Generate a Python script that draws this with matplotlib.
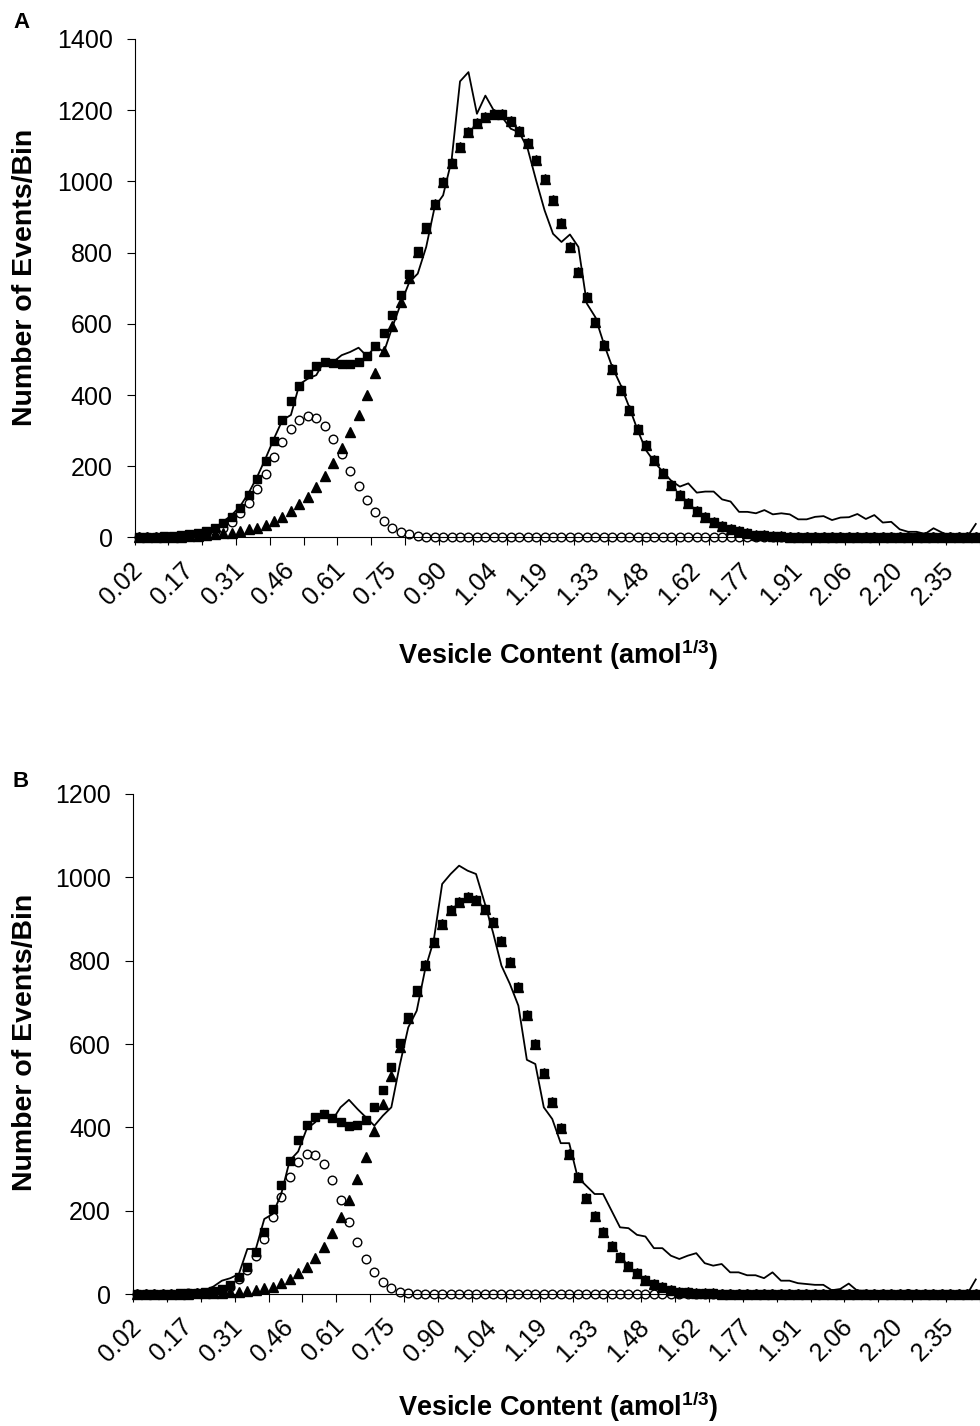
import numpy as np
import matplotlib
matplotlib.use("Agg")
import matplotlib.pyplot as plt

plt.rcParams["font.family"] = ["Liberation Sans", "DejaVu Sans"]
plt.rcParams["mathtext.fontset"] = "custom"
plt.rcParams["mathtext.rm"] = "Liberation Sans"
plt.rcParams["mathtext.bf"] = "Liberation Sans:bold"

# ----------------------------
# Data, one value per bin, 100 bins
# ----------------------------
TICK_LABELS = ["0.02", "0.17", "0.31", "0.46", "0.61", "0.75", "0.90", "1.04", "1.19",
               "1.33", "1.48", "1.62", "1.77", "1.91", "2.06", "2.20", "2.35"]

# Panel A
A_HIST = [0, 0, 1, 1, 2, 2, 4, 8, 14, 25,
          45, 63, 88, 125, 170, 222, 278, 330, 344, 430,
          446, 456, 498, 493, 512, 521, 533, 509, 537, 521,
          591, 657, 717, 741, 816, 928, 961, 1059, 1281, 1307,
          1190, 1241, 1199, 1180, 1148, 1138, 1092, 1003, 919, 853,
          830, 851, 816, 657, 619, 545, 479, 428, 367, 302,
          245, 212, 184, 159, 143, 152, 126, 129, 129, 107,
          101, 72, 72, 68, 77, 65, 68, 65, 51, 51,
          58, 60, 49, 56, 57, 66, 52, 63, 42, 44,
          23, 16, 16, 10, 26, 14, 4, 6, 2, 38]
A_SUM = [1, 1, 2, 3, 4, 6, 9, 13, 18, 26,
         40, 58, 84, 120, 163, 214, 272, 329, 383, 426,
         460, 481, 492, 490, 488, 488, 492, 509, 537, 575,
         624, 680, 741, 806, 872, 937, 998, 1051, 1098, 1138,
         1165, 1182, 1190, 1188, 1169, 1143, 1107, 1060, 1007, 948,
         884, 816, 745, 675, 605, 540, 474, 414, 358, 306,
         259, 217, 180, 147, 119, 96, 75, 58, 44, 32,
         24, 17, 12, 8, 6, 4, 3, 2, 1.5, 1,
         1, 0.5, 0, 0, 0, 0, 0, 0, 0, 0,
         0, 0, 0, 0, 0, 0, 0, 0, 0, 0]
A_SMALL = [0.5, 0.5, 1, 1.5, 2, 3.5, 5.5, 8, 11, 17,
           28, 43, 68, 98, 135, 178, 225, 269, 306, 331,
           342, 335, 313, 276, 234, 187, 144, 105, 71, 47,
           28, 15, 9, 4, 2, 1, 0, 0, 0, 0,
           0, 0, 0, 0, 0, 0, 0, 0, 0, 0,
           0, 0, 0, 0, 0, 0, 0, 0, 0, 0,
           0, 0, 0, 0, 0, 0, 0, 0, 0, 0,
           0, 0, 0, 0, 0, 0, 0, 0, 0, 0,
           0, 0, 0, 0, 0, 0, 0, 0, 0, 0,
           0, 0, 0, 0, 0, 0, 0, 0, 0, 0]
A_LARGE = [0.5, 0.7, 1, 1.3, 1.8, 2.5, 3.5, 5, 7, 9.5,
           12, 13.5, 18, 23, 28, 36, 46, 58, 75, 93,
           114, 142, 172, 208, 250, 295, 345, 401, 463, 524,
           593, 661, 730, 802, 870, 936, 998, 1051, 1098, 1138,
           1165, 1182, 1190, 1188, 1169, 1143, 1107, 1060, 1007, 948,
           884, 816, 745, 675, 605, 540, 474, 414, 358, 306,
           259, 217, 180, 147, 119, 96, 75, 58, 44, 32,
           24, 17, 12, 8, 6, 4, 3, 2, 1.5, 1,
           1, 0.5, 0, 0, 0, 0, 0, 0, 0, 0,
           0, 0, 0, 0, 0, 0, 0, 0, 0, 0]

# Panel B
B_HIST = [0, 0, 0, 1, 2, 3, 6, 10, 9, 18,
          32, 38, 48, 108, 108, 180, 192, 240, 320, 342,
          396, 412, 440, 416, 448, 466, 444, 424, 404, 428,
          448, 550, 640, 680, 780, 848, 984, 1008, 1028, 1016,
          1008, 940, 868, 788, 744, 692, 562, 552, 448, 420,
          362, 362, 280, 260, 240, 240, 200, 160, 158, 142,
          138, 110, 110, 92, 84, 92, 98, 74, 68, 72,
          52, 52, 45, 45, 38, 52, 32, 32, 26, 24,
          22, 22, 9, 12, 25, 8, 8, 6, 8, 6,
          2, 10, 4, 4, 0, 0, 0, 0, 0, 35]
B_SUM = [1, 1, 1, 1, 1, 2, 2, 3, 4, 7,
         12, 22, 42, 66, 102, 150, 203, 262, 320, 370,
         406, 426, 432, 422, 412, 403, 405, 418, 448, 490,
         544, 602, 666, 730, 790, 844, 888, 922, 942, 952,
         946, 924, 892, 848, 796, 736, 670, 600, 530, 462,
         398, 336, 280, 230, 187, 150, 116, 90, 68, 50,
         34, 24, 16, 10, 6, 4, 3, 2, 1.5, 1,
         1, 0.5, 0, 0, 0, 0, 0, 0, 0, 0,
         0, 0, 0, 0, 0, 0, 0, 0, 0, 0,
         0, 0, 0, 0, 0, 0, 0, 0, 0, 0]
B_SMALL = [0.3, 0.3, 0.5, 0.5, 0.8, 1, 1.5, 2, 3, 5,
           9, 18, 36, 58, 92, 132, 184, 234, 282, 318,
           336, 334, 312, 274, 226, 173, 125, 83, 53, 30,
           14, 6, 2, 1, 0, 0, 0, 0, 0, 0,
           0, 0, 0, 0, 0, 0, 0, 0, 0, 0,
           0, 0, 0, 0, 0, 0, 0, 0, 0, 0,
           0, 0, 0, 0, 0, 0, 0, 0, 0, 0,
           0, 0, 0, 0, 0, 0, 0, 0, 0, 0,
           0, 0, 0, 0, 0, 0, 0, 0, 0, 0,
           0, 0, 0, 0, 0, 0, 0, 0, 0, 0]
B_LARGE = [0.2, 0.3, 0.4, 0.5, 0.7, 0.9, 1.2, 1.6, 2, 2.5,
           3, 4, 6, 8, 10, 14, 18, 26, 36, 50,
           66, 86, 114, 146, 184, 226, 276, 330, 392, 456,
           524, 594, 662, 728, 789, 844, 888, 922, 942, 952,
           946, 924, 892, 848, 796, 736, 670, 600, 530, 462,
           398, 336, 280, 230, 187, 150, 116, 90, 68, 50,
           34, 24, 16, 10, 6, 4, 3, 2, 1.5, 1,
           1, 0.5, 0, 0, 0, 0, 0, 0, 0, 0,
           0, 0, 0, 0, 0, 0, 0, 0, 0, 0,
           0, 0, 0, 0, 0, 0, 0, 0, 0, 0]

W, H = 980, 1426
BIN_PX = 8.52


def rect(left, top, right, bottom):
    return [left / W, 1 - bottom / H, (right - left) / W, (bottom - top) / H]


def draw_panel(ax, hist, fit, small, large, ymax, left_px):
    x = np.arange(len(hist))
    ax.plot(x, hist, color="black", linewidth=1.3, zorder=2)
    ax.plot(x, small, linestyle="none", marker="o", markersize=6.2,
            markerfacecolor="none", markeredgecolor="black", markeredgewidth=1.0,
            zorder=3, clip_on=False)
    ax.plot(x, fit, linestyle="none", marker="s", markersize=6,
            color="black", zorder=4, clip_on=False)
    ax.plot(x, large, linestyle="none", marker="^", markersize=6.5,
            color="black", zorder=5, clip_on=False)

    ax.set_xlim(-0.5, -0.5 + (W - left_px) / BIN_PX)
    ax.set_ylim(0, ymax)
    ax.set_yticks(np.arange(0, ymax + 1, 200))
    ax.set_xticks(np.arange(0, len(hist), 6)[:len(TICK_LABELS)])
    ax.set_xticklabels(TICK_LABELS, rotation=45, ha="right", va="center",
                       rotation_mode="anchor")
    ax.set_xticks(np.arange(-0.5, len(hist), 4), minor=True)

    ax.tick_params(axis="y", direction="out", length=5.8, width=0.8,
                   pad=10, labelsize=18)
    ax.tick_params(axis="x", which="major", length=0, pad=21, labelsize=18)
    ax.tick_params(axis="x", which="minor", direction="out", length=5.5, width=0.8)

    for side in ["top", "right"]:
        ax.spines[side].set_visible(False)
    for side in ["left", "bottom"]:
        ax.spines[side].set_linewidth(0.8)
        ax.spines[side].set_color("black")


fig = plt.figure(figsize=(W / 100, H / 100), dpi=100)

ax_a = fig.add_axes(rect(134.5, 39, W, 537.5))
draw_panel(ax_a, A_HIST, A_SUM, A_SMALL, A_LARGE, 1400, 134.5)

ax_b = fig.add_axes(rect(133, 794, W, 1294))
draw_panel(ax_b, B_HIST, B_SUM, B_SMALL, B_LARGE, 1200, 133)

xlabel = r"Vesicle Content (amol$^{\mathbf{1/3}}$)"
for ycen, yl, letter, ly in [(655, 277, "A", 22), (1407, 1042, "B", 781)]:
    fig.text(558 / W, 1 - ycen / H, xlabel, ha="center", va="center",
             fontsize=19.5, fontweight="bold")
    fig.text(25 / W, 1 - yl / H, "Number of Events/Bin", rotation=90,
             ha="center", va="center", fontsize=20.5, fontweight="bold")
    fig.text(21 / W, 1 - ly / H, letter, ha="center", va="center",
             fontsize=16, fontweight="bold")

plt.savefig("out.png", dpi=100)
plt.close()
